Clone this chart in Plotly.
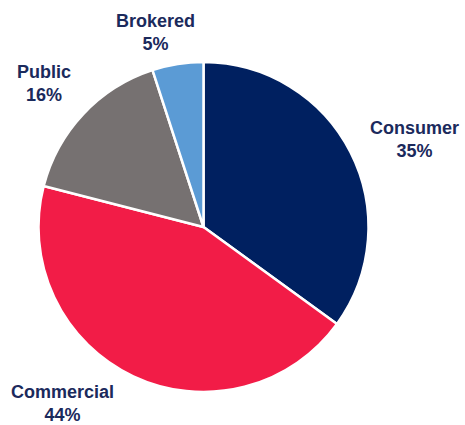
import plotly.graph_objects as go

labels = ["Consumer", "Commercial", "Public", "Brokered"]
values = [35, 44, 16, 5]
colors = ["#002060", "#F21C47", "#767171", "#5B9BD5"]
# label text positions (pixels from top-left, centre of each two-line label)
label_x = [414, 62, 44, 155]
label_y = [140, 403, 83, 32]

W, H = 465, 425

fig = go.Figure(go.Pie(
    labels=labels,
    values=values,
    sort=False,
    direction="clockwise",
    rotation=0,
    marker=dict(colors=colors, line=dict(color="white", width=2.5)),
    textinfo="none",
    hoverinfo="label+percent",
    domain=dict(x=[38.5 / W, 368.5 / W], y=[(H - 392) / H, (H - 62) / H]),
    showlegend=False,
))

for lab, v, lx, ly in zip(labels, values, label_x, label_y):
    fig.add_annotation(
        x=lx / W, y=1 - ly / H, xref="paper", yref="paper",
        text=f"<b>{lab}<br>{v}%</b>",
        showarrow=False, xanchor="center", yanchor="middle", align="center",
        font=dict(family="Liberation Sans, Arial, sans-serif", size=18, color="#1B2A5C"),
    )

fig.update_layout(
    width=W, height=H,
    margin=dict(l=0, r=0, t=0, b=0),
    paper_bgcolor="white", plot_bgcolor="white",
)

fig.write_html(
    "out.html",
    config={"displayModeBar": False},
    post_script="document.body.style.margin='0';document.body.style.overflow='hidden';",
)
